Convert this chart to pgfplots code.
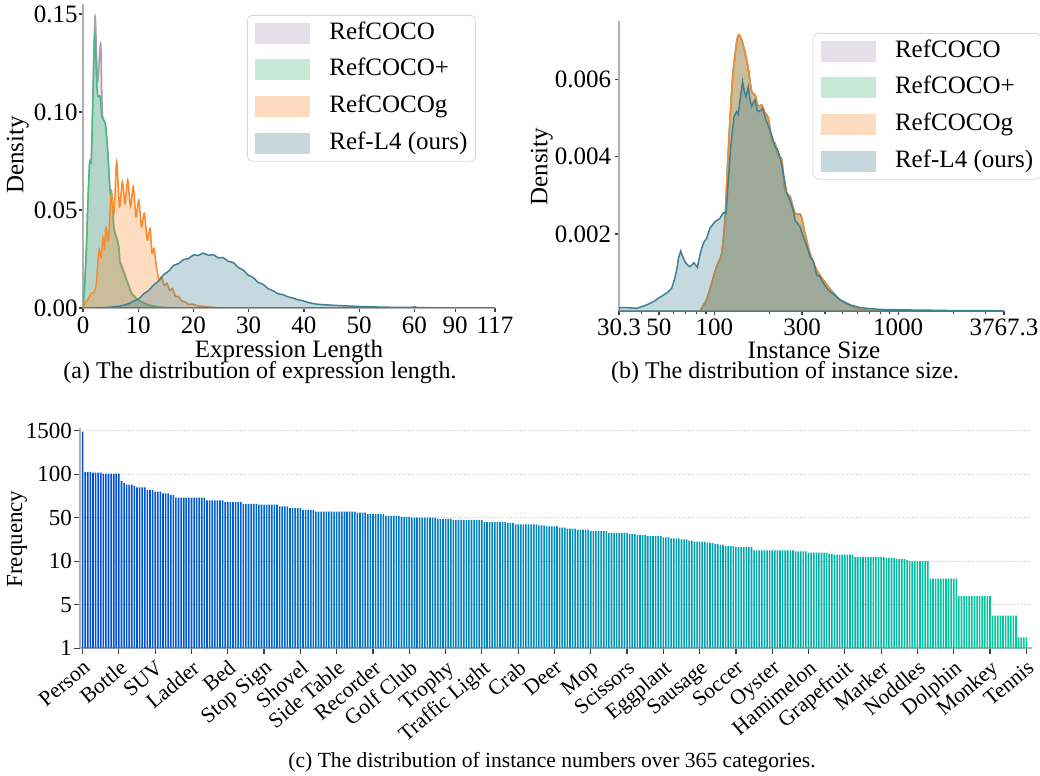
\documentclass[border=0pt]{standalone}
\usepackage{fontspec}
\setmainfont{Liberation Serif}
\usepackage{pgfplots}
\usepackage{pgfplotstable}
\pgfplotsset{compat=1.18}
\definecolor{cRef}{RGB}{172,152,185}
\definecolor{cPlus}{RGB}{72,188,128}
\definecolor{cG}{RGB}{248,138,45}
\definecolor{cL}{RGB}{62,128,148}
\definecolor{barL}{RGB}{0,77,217}
\definecolor{barR}{RGB}{0,204,153}
\definecolor{spine}{RGB}{176,176,176}
\newcommand\fsA{\fontsize{12.5}{15}\selectfont}
\newcommand\fsC{\fontsize{11.5}{13}\selectfont}
\newcommand\fsX{\fontsize{10.8}{12}\selectfont}
\newcommand\fsCap{\fontsize{12}{14}\selectfont}
\newcommand\fsCapC{\fontsize{10.8}{13}\selectfont}

% ---------- (a) expression length ----------
\pgfplotstableread{
x y
0 0
0.3 0.012
0.6 0.030
0.9 0.055
1.2 0.074
1.5 0.076
1.8 0.110
2.2 0.1487
2.65 0.116
3.2 0.135
3.5 0.100
4.05 0.094
4.5 0.079
4.9 0.060
5.15 0.060
5.4 0.051
5.6 0.041
6.0 0.037
6.45 0.032
6.7 0.024
6.95 0.022
7.4 0.019
7.85 0.015
8.3 0.0115
8.75 0.008
9.4 0.0058
10 0.0042
11 0.0026
12 0.0015
13 0.0008
14 0.0004
16 0.0001
20 0
}\aRef
\pgfplotstableread{
x y
0 0
0.3 0.012
0.6 0.030
0.9 0.055
1.2 0.074
1.5 0.0755
1.8 0.106
2.1 0.139
2.6 0.1095
3.1 0.108
3.45 0.097
4.05 0.094
4.5 0.079
4.9 0.059
5.15 0.0588
5.4 0.050
5.6 0.040
6.0 0.0364
6.45 0.031
6.7 0.0228
6.95 0.0211
7.4 0.018
7.85 0.0143
8.3 0.011
8.75 0.0075
9.4 0.0055
10 0.004
11 0.0025
12 0.0015
13 0.0008
14 0.0004
16 0.0001
20 0
}\aPlus
\pgfplotstableread{
x y
0 0
0.5 0.003
0.8 0.004
1.2 0.006
1.6 0.0075
2.0 0.008
2.4 0.012
2.65 0.022
2.95 0.030
3.3 0.026
3.6 0.036
3.9 0.031
4.15 0.041
4.6 0.0347
5.1 0.058
5.6 0.048
6.1 0.0747
6.6 0.0517
7.13 0.0645
7.6 0.0534
8.09 0.0653
8.6 0.0517
9.1 0.0619
9.6 0.0466
10.09 0.0551
10.6 0.0415
11.1 0.0483
11.65 0.0347
12.14 0.0407
12.5 0.028
12.86 0.0304
13.3 0.021
13.8 0.014
14.25 0.016
14.7 0.0115
15.2 0.0126
15.7 0.009
16.2 0.010
16.75 0.006
17.3 0.0058
17.9 0.0035
18.5 0.0032
19.1 0.0018
19.7 0.002
21 0.001
22.3 0.0007
24 0.0002
26 0
}\aG
\pgfplotstableread{
x y
0 0
3 0.0001
5 0.0004
6.5 0.0009
7.5 0.0015
8.5 0.0025
9.2 0.0036
10.1 0.0047
11.0 0.0072
11.9 0.0090
12.8 0.0118
13.7 0.0138
14.6 0.0170
15.5 0.0188
16.4 0.0217
17.3 0.0226
18.2 0.0247
19.1 0.0252
20.0 0.0271
20.9 0.0268
21.8 0.0280
22.7 0.0269
23.6 0.0272
24.5 0.0256
25.4 0.0257
26.3 0.0238
27.2 0.0232
28.1 0.0207
29.0 0.0194
29.9 0.0168
30.8 0.0156
31.7 0.0131
32.6 0.0121
33.5 0.0099
34.4 0.0088
35.3 0.0073
36.2 0.0068
37.1 0.0057
38.0 0.0051
38.9 0.0042
39.8 0.0037
40.7 0.0029
42.0 0.0021
44.0 0.0016
46.0 0.0013
48.0 0.0010
50.8 0.0007
55 0.0004
59 0.0003
60.3 0.0006
61.5 0.0003
64 0.0002
80 0.0001
117 0
}\aL

% ---------- (b) instance size ----------
\pgfplotstableread{
x y
83.6 0
87 0.00015
90.8 0.0003
96.7 0.00073
103 0.00116
109.7 0.0015
114.3 0.00236
117.7 0.00366
121.7 0.00495
125.9 0.00607
131.3 0.00685
135.2 0.00715
141 0.00702
147 0.00668
153.3 0.00625
159.7 0.00568
166.4 0.0056
173.5 0.0053
181 0.00534
188.7 0.00513
196.8 0.005
205.2 0.00443
214 0.00435
223 0.004
232.8 0.00392
242.7 0.00314
258.2 0.00297
274.8 0.00254
295 0.0025
311 0.00202
331.6 0.0015
360.8 0.00107
392 0.00081
417 0.00064
450 0.00045
483 0.0003
547 0.00015
620 0.00006
700 0.00002
800 0
}\bCoco
\pgfplotstableread{
x y
30.3 0.0001
33 0.0001
37.8 0.00008
42 0.00015
46.6 0.00025
50 0.00035
52.8 0.00042
56 0.0005
58.6 0.0006
60.5 0.0008
62.4 0.00107
64 0.0014
65.6 0.00156
67.5 0.0014
69.2 0.00129
71.5 0.0012
73.7 0.00116
75.5 0.0012
77.5 0.00126
80.8 0.00114
83 0.0014
85.3 0.00163
88 0.0018
90.8 0.00189
94.6 0.00215
100.8 0.00232
104 0.00236
107.4 0.00241
111.9 0.00255
115.8 0.00254
119.2 0.0034
122.8 0.00426
128 0.00504
132.4 0.00517
135 0.0051
138 0.00547
142.6 0.00594
145.5 0.0057
148.6 0.00556
153.1 0.00581
156 0.0055
159.6 0.0053
163 0.0054
166.4 0.00547
171 0.0052
175.6 0.00517
183.3 0.00525
191 0.00495
200.9 0.00469
207 0.0045
213.8 0.00426
220 0.0042
227.6 0.004
237.3 0.00357
247.6 0.00306
258.2 0.00288
269 0.0026
274.8 0.00236
292.6 0.00219
305 0.00193
318 0.0017
331.7 0.00142
345.6 0.0013
360.8 0.00094
375.8 0.0009
392 0.00073
417 0.00055
444 0.00045
483 0.0003
547 0.00017
620 0.0001
700 0.00007
800 0.00005
1000 0.00004
1500 0.00003
2000 0.00002
3000 0.00002
3767.3 0.00001
}\bL

% ---------- (c) frequencies of 365 categories ----------
\pgfplotstableread[row sep=\\]{
f\\
1470\\176\\176\\176\\153\\153\\153\\153\\121\\121\\121\\121\\121\\121\\121\\
92\\90\\88\\88\\88\\87\\85\\85\\85\\85\\82\\82\\82\\80\\80\\80\\78\\78\\78\\76\\76\\
73\\73\\73\\73\\73\\73\\73\\73\\73\\73\\73\\73\\
70\\70\\70\\70\\70\\70\\70\\68\\68\\68\\68\\68\\68\\68\\
66\\66\\66\\66\\66\\66\\65\\65\\65\\65\\65\\65\\65\\65\\
63\\63\\63\\63\\61\\61\\61\\61\\61\\59\\59\\59\\59\\59\\
57\\57\\57\\57\\57\\57\\57\\57\\57\\57\\57\\57\\57\\57\\57\\57\\
56\\56\\56\\56\\54\\54\\54\\54\\54\\54\\54\\52\\52\\52\\52\\52\\52\\
51\\51\\51\\51\\50\\50\\50\\50\\50\\50\\50\\50\\50\\50\\
49\\49\\49\\49\\49\\49\\48\\48\\48\\48\\48\\48\\48\\48\\48\\48\\48\\48\\
46\\46\\46\\46\\46\\46\\46\\46\\46\\45\\45\\45\\
44\\44\\44\\44\\44\\44\\44\\44\\44\\43\\43\\43\\
42\\42\\42\\42\\42\\41\\41\\41\\40\\40\\40\\40\\
39\\39\\39\\39\\39\\38\\38\\38\\38\\38\\38\\38\\
36\\36\\36\\36\\36\\36\\36\\36\\35\\35\\35\\
34\\34\\34\\34\\33\\33\\33\\33\\33\\33\\
32\\32\\32\\31\\31\\31\\31\\30\\30\\30\\29\\29\\
28\\28\\28\\28\\28\\27\\27\\27\\26\\26\\25\\25\\
24\\24\\24\\24\\23\\23\\23\\23\\23\\23\\23\\
20\\20\\20\\20\\20\\20\\20\\20\\20\\20\\20\\20\\20\\20\\20\\20\\
19\\19\\19\\19\\19\\18\\18\\18\\18\\18\\18\\18\\18\\
17\\17\\16\\16\\16\\16\\16\\16\\16\\16\\
14\\14\\14\\14\\14\\14\\14\\14\\14\\14\\14\\14\\
13\\13\\13\\13\\12\\12\\12\\12\\11\\
10\\10\\10\\10\\10\\10\\10\\10\\
8\\8\\8\\8\\8\\8\\8\\8\\8\\8\\8\\
6\\6\\6\\6\\6\\6\\6\\6\\6\\6\\6\\6\\6\\
4\\4\\4\\4\\4\\4\\4\\4\\4\\4\\
2\\2\\2\\2\\
}\freqtable

\pgfplotsset{
  panel/.style={
    scale only axis, anchor=south west,
    axis x line*=bottom, axis y line*=left,
    axis line style={draw=spine, line width=0.9pt, -},
    tick align=outside,
    tick style={draw=black!75, line width=0.6pt},
    major tick length=2pt, minor tick length=1.2pt,
    scaled ticks=false,
  },
  kde/.style={draw=#1, fill=#1, fill opacity=0.3, draw opacity=1, line width=0.75pt, smooth, tension=0.45},
  kdesharp/.style={draw=#1, fill=#1, fill opacity=0.3, draw opacity=1, line width=0.75pt},
  leg/.style={
    legend cell align=left,
    legend image code/.code={\path[##1, draw=none, sharp corners] (0pt,-5.25pt) rectangle (27.5pt,5.25pt); \path[draw=none, fill=none] (27.5pt,0pt) -- (37pt,0pt);},
    legend style={draw=black!15, rounded corners=2.5pt, fill=white, font=\fsA,
      inner xsep=4pt, inner ysep=3pt, row sep=6.3pt,
      nodes={inner sep=0pt, text height=9pt, text depth=3pt}},
  },
}

\begin{document}
\begin{tikzpicture}
\useasboundingbox (0,0) rectangle (520pt,388pt);

% ================= (a) =================
\begin{axis}[panel, leg,
  at={(41.5pt,234pt)}, width=206pt, height=151.9pt,
  xmin=0, xmax=74.6, ymin=0, ymax=0.155,
  x filter/.expression={x<=60 ? x : (x<=90 ? 60+(x-60)*0.24667 : 67.4+(x-90)*0.26667)},
  xtick={0,10,20,30,40,50,60,67.4,74.6},
  xticklabels={0,10,20,30,40,50,60,90,117},
  ytick={0,0.05,0.1,0.15},
  yticklabels={0.00,0.05,0.10,0.15},
  xticklabel style={font=\fsA, inner sep=2.3pt},
  yticklabel style={font=\fsA, inner xsep=0.5pt},
  xlabel={Expression Length}, ylabel={Density},
  xlabel style={font=\fsA, at={(axis description cs:0.5,-0.1646)}, anchor=base},
  ylabel style={font=\fsA, at={(axis description cs:-0.158,0.504)}, anchor=center},
  legend style={at={(axis description cs:0.398,0.9645)}, anchor=north west},
]
\addplot[kde=cRef] table {\aRef} \closedcycle; \addlegendentry{RefCOCO}
\addplot[kde=cPlus] table {\aPlus} \closedcycle; \addlegendentry{RefCOCO+}
\addplot[kde=cG] table {\aG} \closedcycle; \addlegendentry{RefCOCOg}
\addplot[kde=cL] table {\aL} \closedcycle; \addlegendentry{Ref-L4 (ours)}
\end{axis}

% ================= (b) =================
\begin{axis}[panel, leg,
  at={(309.5pt,232.3pt)}, width=192.5pt, height=145pt,
  xmode=log, xmin=30.3, xmax=3767.3, ymin=0, ymax=0.0075,
  xtick={30.3,50,100,300,1000,3767.3},
  xticklabels={30.3,50,100,300,1000,3767.3},
  minor xtick={40,60,70,80,90,200,400,500,600,700,800,900,2000,3000},
  ytick={0.002,0.004,0.006},
  yticklabels={0.002,0.004,0.006},
  xticklabel style={font=\fsA, inner sep=1.5pt},
  yticklabel style={font=\fsA, inner xsep=1.8pt},
  xlabel={Instance Size}, ylabel={Density},
  xlabel style={font=\fsA, at={(axis description cs:0.5065,-0.1617)}, anchor=base},
  ylabel style={font=\fsA, at={(axis description cs:-0.2008,0.499)}, anchor=center},
  legend style={at={(axis description cs:0.503,0.96)}, anchor=north west},
]
\addplot[kde=cRef] table {\bCoco} \closedcycle; \addlegendentry{RefCOCO}
\addplot[kde=cPlus] table {\bCoco} \closedcycle; \addlegendentry{RefCOCO+}
\addplot[kde=cG] table {\bCoco} \closedcycle; \addlegendentry{RefCOCOg}
\addplot[kdesharp=cL] table {\bL} \closedcycle; \addlegendentry{Ref-L4 (ours)}
\end{axis}

% ================= (c) =================
\begin{axis}[panel,
  at={(40pt,63.85pt)}, width=475.75pt, height=109.9pt,
  xmin=-1, xmax=366, ymin=0, ymax=5.05,
  major tick length=3pt,
  y filter/.expression={y<5 ? (y-1)/4 : (y<10 ? 1+(y-5)/5 : (y<50 ? 2+(y-10)/40 : (y<100 ? 3+(y-50)/50 : 4+(y-100)/1400)))},
  ytick={0,1,2,3,4,5}, yticklabels={1,5,10,50,100,1500},
  xtick={0,14,...,364},
  xticklabels={Person,Bottle,SUV,Ladder,Bed,Stop Sign,Shovel,Side Table,Recorder,Golf Club,Trophy,Traffic Light,Crab,Deer,Mop,Scissors,Eggplant,Sausage,Soccer,Oyster,Hamimelon,Grapefruit,Marker,Noddles,Dolphin,Monkey,Tennis},
  ymajorgrids, grid style={densely dotted, black!22, line width=0.6pt},
  xticklabel style={font=\fsX, rotate=40, anchor=north east, inner sep=1.5pt},
  yticklabel style={font=\fsC, inner xsep=0.8pt},
  ylabel={Frequency},
  ylabel style={font=\fsC, at={(axis description cs:-0.0662,0.497)}, anchor=center},
]
\foreach \g in {0,...,72} {
  \pgfmathtruncatemacro\ia{5*\g}
  \pgfmathtruncatemacro\ib{5*\g+4}
  \pgfmathsetmacro\pc{100*\g/72}
  \edef\tmp{\noexpand\addplot[ybar, bar width=0.8pt, bar shift=0pt, draw=none, fill=barR!\pc!barL, forget plot, restrict x to domain=\ia:\ib]
    table[x expr=\noexpand\coordindex, y=f] {\noexpand\freqtable};}
  \tmp
}
\end{axis}

% captions
\node[anchor=base, font=\fsCap] at (130pt,198.5pt) {(a) The distribution of expression length.};
\node[anchor=base, font=\fsCap] at (392.5pt,198.5pt) {(b) The distribution of instance size.};
\node[anchor=base, font=\fsCapC] at (276pt,4pt) {(c) The distribution of instance numbers over 365 categories.};
\end{tikzpicture}
\end{document}
